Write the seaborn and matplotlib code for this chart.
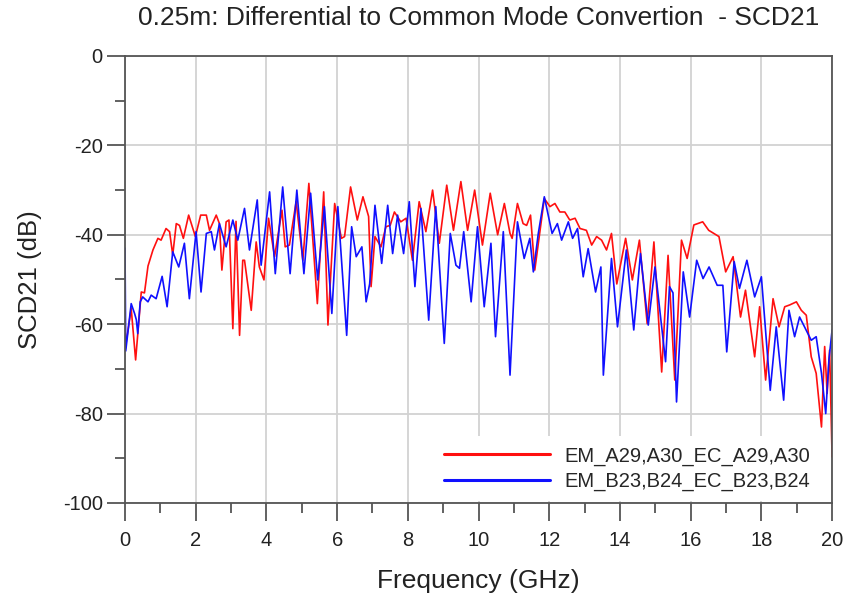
import numpy as np
import pandas as pd
import matplotlib
matplotlib.use("Agg")
import matplotlib.pyplot as plt
from matplotlib.ticker import MultipleLocator
import seaborn as sns

title = "0.25m: Differential to Common Mode Convertion  - SCD21"
xlabel = "Frequency (GHz)"
ylabel = "SCD21 (dB)"
name_a = "EM_A29,A30_EC_A29,A30"
name_b = "EM_B23,B24_EC_B23,B24"

freq_a = [0.0, 0.175, 0.30, 0.46, 0.55, 0.65, 0.79, 0.93, 1.02, 1.16, 1.26, 1.35, 1.45, 1.54,
          1.65, 1.80, 1.92, 1.99, 2.14, 2.30, 2.39, 2.58, 2.67, 2.74, 2.86, 2.94, 3.05, 3.14,
          3.24, 3.33, 3.38, 3.57, 3.71, 3.80, 3.93, 4.06, 4.23, 4.44, 4.53, 4.65, 4.84, 5.03,
          5.20, 5.44, 5.62, 5.74, 5.93, 6.12, 6.21, 6.38, 6.57, 6.73, 6.89, 6.96, 7.07, 7.24,
          7.38, 7.50, 7.62, 7.80, 7.95, 8.13, 8.32, 8.51, 8.70, 8.89, 9.10, 9.29, 9.50, 9.69,
          9.89, 10.11, 10.33, 10.54, 10.73, 10.89, 10.95, 11.10, 11.26, 11.36, 11.47, 11.59,
          11.73, 11.86, 12.02, 12.16, 12.30, 12.44, 12.58, 12.73, 12.87, 13.05, 13.20, 13.34,
          13.48, 13.62, 13.76, 13.91, 14.16, 14.35, 14.55, 14.77, 14.96, 15.18, 15.36, 15.55,
          15.74, 15.90, 16.09, 16.34, 16.51, 16.80, 16.99, 17.20, 17.41, 17.55, 17.81, 17.95,
          18.12, 18.33, 18.50, 18.66, 18.80, 18.99, 19.13, 19.27, 19.41, 19.55, 19.70, 19.79,
          19.86, 19.93, 20.0]
scd_a = [-65.8, -56.5, -68.0, -52.8, -53.0, -47.0, -43.4, -40.8, -41.2, -38.6, -39.3, -44.5,
         -37.5, -37.9, -40.8, -35.6, -38.6, -40.4, -35.6, -35.6, -39.0, -35.6, -37.5, -47.9,
         -37.1, -36.7, -61.0, -37.0, -62.5, -45.7, -45.7, -56.9, -41.6, -47.2, -50.1, -36.3,
         -44.9, -34.5, -42.7, -42.3, -32.6, -45.7, -28.5, -55.4, -30.4, -60.2, -33.0, -40.8,
         -40.4, -29.3, -36.7, -31.5, -35.9, -51.6, -40.4, -42.7, -38.2, -37.9, -34.9, -37.1,
         -36.3, -45.7, -32.6, -39.3, -30.0, -41.9, -28.9, -39.0, -28.1, -39.0, -30.0, -42.3,
         -30.7, -40.0, -33.0, -39.7, -40.8, -33.0, -37.5, -37.9, -35.6, -47.9, -39.7, -31.9,
         -33.7, -33.0, -34.9, -34.9, -36.7, -36.3, -38.6, -39.0, -42.3, -40.4, -41.2, -43.4,
         -39.7, -51.0, -40.8, -50.1, -41.2, -59.9, -41.6, -70.7, -44.6, -72.5, -41.2, -45.3,
         -37.8, -37.1, -39.0, -40.4, -48.3, -44.9, -58.4, -52.4, -67.3, -56.1, -72.5, -54.3,
         -60.6, -56.1, -55.7, -55.0, -56.9, -58.0, -67.3, -71.0, -83.0, -65.0, -75.5, -65.8,
         -89.7]

freq_b = [0.0, 0.02, 0.175, 0.27, 0.32, 0.36, 0.43, 0.50, 0.65, 0.74, 0.88, 1.05, 1.19, 1.35,
          1.52, 1.68, 1.82, 2.01, 2.15, 2.30, 2.44, 2.53, 2.67, 2.86, 3.05, 3.19, 3.38, 3.52,
          3.74, 3.85, 4.09, 4.25, 4.46, 4.67, 4.86, 5.06, 5.25, 5.45, 5.64, 5.85, 6.02, 6.27,
          6.41, 6.54, 6.70, 6.82, 6.92, 7.07, 7.26, 7.43, 7.57, 7.71, 7.88, 8.04, 8.20, 8.37,
          8.59, 8.79, 9.03, 9.20, 9.36, 9.46, 9.58, 9.79, 9.97, 10.16, 10.35, 10.48, 10.70,
          10.89, 11.10, 11.29, 11.45, 11.55, 11.69, 11.86, 12.08, 12.23, 12.35, 12.54, 12.66,
          12.80, 12.96, 13.10, 13.31, 13.46, 13.53, 13.76, 13.93, 14.18, 14.39, 14.58, 14.80,
          14.99, 15.29, 15.40, 15.50, 15.60, 15.79, 15.97, 16.17, 16.35, 16.52, 16.75, 16.91,
          17.02, 17.23, 17.38, 17.59, 17.81, 18.00, 18.25, 18.42, 18.63, 18.78, 18.94, 19.08,
          19.22, 19.41, 19.55, 19.70, 19.82, 19.91, 20.0]
scd_b = [-43.0, -66.0, -55.4, -57.6, -59.0, -62.1, -55.0, -53.9, -55.0, -53.5, -54.3, -49.3,
         -56.1, -43.8, -47.2, -41.9, -54.3, -39.3, -52.8, -39.7, -39.3, -43.4, -37.5, -42.7,
         -36.7, -41.2, -34.1, -43.4, -32.2, -46.8, -30.4, -48.7, -29.3, -48.7, -30.0, -48.7,
         -30.7, -50.1, -33.7, -57.6, -33.7, -62.5, -38.2, -44.9, -42.7, -55.0, -51.0, -33.4,
         -46.4, -33.4, -44.2, -35.6, -44.2, -32.6, -51.6, -34.1, -59.1, -33.7, -64.3, -39.7,
         -46.8, -47.5, -39.3, -55.0, -38.2, -56.1, -41.9, -62.8, -39.3, -71.4, -37.1, -45.3,
         -40.8, -48.3, -39.7, -31.5, -39.7, -37.5, -41.2, -37.1, -40.8, -38.6, -49.4, -43.1,
         -52.8, -47.2, -71.4, -45.3, -60.6, -43.4, -61.3, -44.2, -60.2, -47.2, -68.4, -51.6,
         -53.0, -77.4, -48.3, -58.4, -45.7, -49.8, -47.2, -51.3, -51.3, -66.2, -46.0, -52.0,
         -45.7, -53.9, -49.4, -74.8, -60.6, -77.0, -56.9, -62.8, -58.4, -60.6, -63.6, -62.8,
         -71.0, -80.0, -68.0, -61.3]

xticks = [0, 2, 4, 6, 8, 10, 12, 14, 16, 18, 20]
yticks = [-100, -80, -60, -40, -20, 0]

df = pd.concat([
    pd.DataFrame({"f": freq_a, "v": scd_a, "s": name_a}),
    pd.DataFrame({"f": freq_b, "v": scd_b, "s": name_b}),
], ignore_index=True)

sns.set_style("white")
plt.rcParams["font.family"] = ["Liberation Sans", "DejaVu Sans"]
plt.rcParams["axes.unicode_minus"] = False

fig = plt.figure(figsize=(8.47, 6.02), dpi=100)
ax = fig.add_axes([0.1476, 0.1645, 0.8348, 0.7425])

sns.lineplot(data=df, x="f", y="v", hue="s", palette={name_a: "#ff1010", name_b: "#1010ff"},
             estimator=None, sort=False, linewidth=1.2, ax=ax)

ax.set_xlim(0, 20)
ax.set_ylim(-100, 0)
ax.set_xticks(xticks)
ax.set_yticks(yticks)
ax.xaxis.set_minor_locator(MultipleLocator(1))
ax.yaxis.set_minor_locator(MultipleLocator(10))
ax.grid(True, which="major", color="#d2d2d2", linewidth=1.3)
ax.set_axisbelow(True)
for sp in ax.spines.values():
    sp.set_color("#555555")
    sp.set_linewidth(1.3)
ax.tick_params(axis="both", which="both", bottom=True, left=True, top=False, right=False)
ax.tick_params(axis="both", which="major", direction="out", length=13, width=1.3,
               color="#555555", labelsize=14.5, labelcolor="#222222", pad=3)
ax.tick_params(axis="x", which="major", pad=7)
ax.tick_params(axis="both", which="minor", direction="out", length=7, width=1.3,
               color="#555555")
ax.set_xlabel(xlabel, fontsize=19, color="#222222", labelpad=14)
ax.set_ylabel(ylabel, fontsize=18.5, color="#222222", labelpad=15)
ax.set_title(title, fontsize=19, color="#222222", pad=22)

leg = ax.legend(loc="lower right", bbox_to_anchor=(0.986, 0.0), frameon=True, fancybox=False,
                framealpha=1, facecolor="white", edgecolor="none", fontsize=14.5,
                borderaxespad=0.1, handlelength=5.3, handletextpad=0.7, labelspacing=0.3,
                borderpad=0.5)
for line in leg.get_lines():
    line.set_linewidth(2.2)

fig.savefig("out.png", dpi=100)
